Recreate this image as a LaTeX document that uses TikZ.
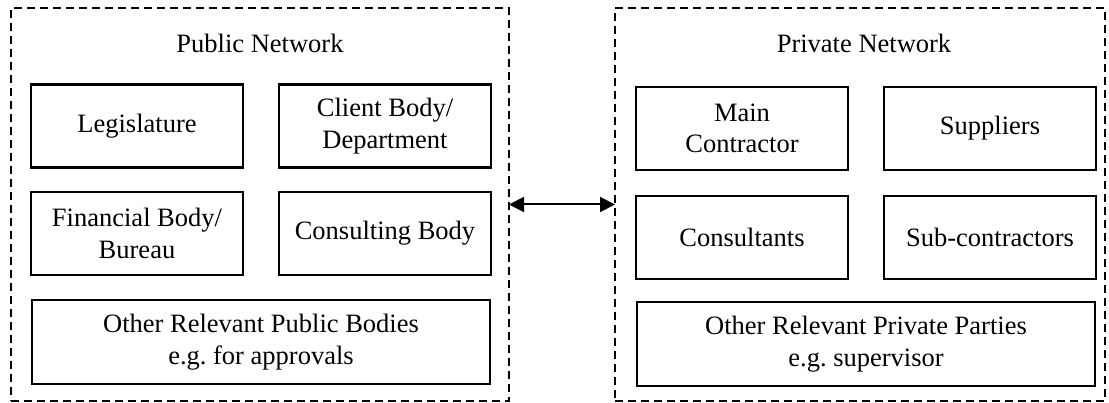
\documentclass[tikz,border=0pt]{standalone}
\usepackage{fontspec}
\setmainfont{Liberation Serif}
\usetikzlibrary{arrows.meta}
\begin{document}
\begin{tikzpicture}[x=1pt,y=-1pt,
  every node/.style={font=\fontsize{26.5}{31.5}\selectfont, align=center, inner sep=0pt, outer sep=0pt},
  box/.style={draw, line width=2.1pt, minimum width=212pt, minimum height=83pt},
  widebox/.style={draw, line width=2.1pt, minimum width=458pt, minimum height=84pt},
  net/.style={draw, line width=1.5pt, dash pattern=on 8pt off 5pt},
  link/.style={line width=2pt, {Triangle[length=15pt,width=15pt]}-{Triangle[length=15pt,width=15pt]}}
]
\useasboundingbox (0,0) rectangle (1109,403);
% network containers
\node[net, minimum width=498pt, minimum height=393pt] (pub) at (260,204.5) {};
\node[net, minimum width=490pt, minimum height=393pt] (priv) at (860,204.5) {};
\node (publbl) at (260,43) {Public Network};
\node (privlbl) at (864,43) {Private Network};
% public
\node[box] (leg) at (137,126) {Legislature};
\node[box] (client) at (385,126) {Client Body/\\Department};
\node[box] (fin) at (137,233.5) {Financial Body/\\Bureau};
\node[box] (cons) at (385,233.5) {Consulting Body};
\node[widebox] (opub) at (261,342) {Other Relevant Public Bodies\\e.g.\ for approvals};
% private
\node[box] (main) at (742,128.5) {Main\\Contractor};
\node[box] (supp) at (990,128.5) {Suppliers};
\node[box] (consult) at (742,237.5) {Consultants};
\node[box] (sub) at (990,237.5) {Sub-contractors};
\node[widebox] (opriv) at (866,344) {Other Relevant Private Parties\\e.g.\ supervisor};
% link
\draw[link] (pub.east) -- (priv.west);
\end{tikzpicture}
\end{document}
